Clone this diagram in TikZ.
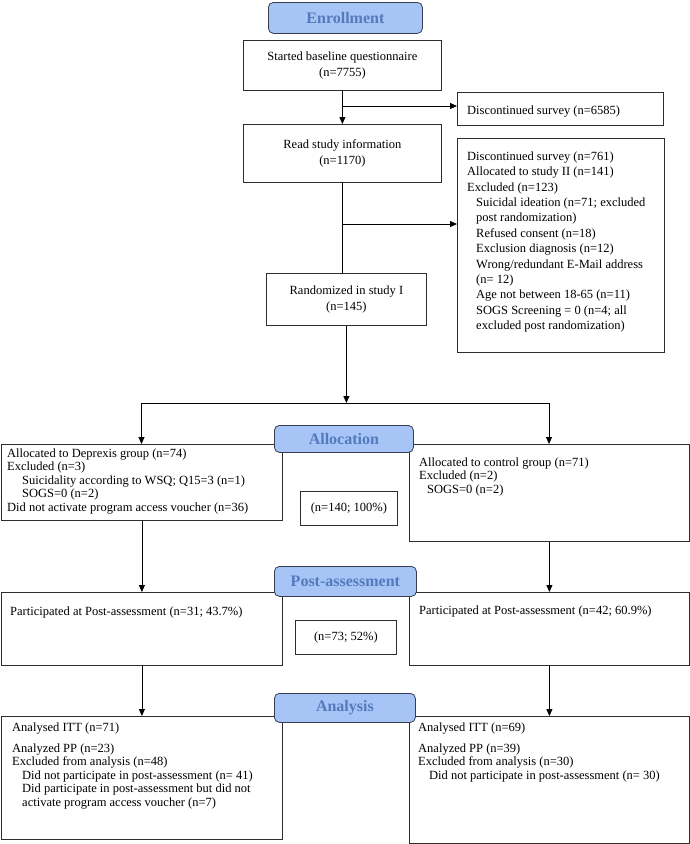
\documentclass[tikz,border=0pt]{standalone}
\usepackage{fontspec}
\setmainfont{Liberation Serif}
\usetikzlibrary{arrows.meta,calc}
\definecolor{tagfill}{RGB}{166,196,245}
\definecolor{tagtext}{RGB}{84,122,190}
\definecolor{tagline}{RGB}{55,62,80}
\definecolor{boxline}{RGB}{45,45,45}
\newcommand\mybox[7][]{\node[box,anchor=north west,minimum width={(#5-#3)*1pt},minimum height={(#6-#4)*1pt},#1] (#2) at (#3,#4) {#7};}
\newcommand\mytag[6]{\node[tag,anchor=north west,minimum width={(#5-#3)*1pt},minimum height={(#6-#4)*1pt}] (#2) at (#3,#4) {#1};}
\begin{document}
\begin{tikzpicture}[x=1pt,y=-1pt,
  box/.style={draw=boxline, line width=0.8pt, fill=white, inner sep=0pt, align=center, font=\fontsize{12.5}{15.5}\selectfont},
  tag/.style={draw=tagline, line width=0.8pt, fill=tagfill, rounded corners=5pt, text=tagtext, font=\fontsize{16}{18}\selectfont\bfseries, inner sep=0pt},
  txt/.style={inner sep=0pt, anchor=north west, align=left, font=\fontsize{12.5}{13.5}\selectfont},
  arr/.style={draw=black, line width=0.8pt, -{Triangle[length=7pt,width=6pt]}},
  ln/.style={draw=black, line width=0.8pt}]
\fill[white] (0,0) rectangle (690,844);
\useasboundingbox (0,0) rectangle (690,844);

% enrollment column
\mybox{start}{243}{40}{441}{90}{Started baseline questionnaire\\(n=7755)}
\mybox{read}{243}{124}{441}{182}{Read study information\\(n=1170)}
\mybox{rand}{266}{273}{426}{325}{Randomized in study I\\(n=145)}
\mybox[align=left]{disc}{457}{92}{663}{125}{}
\node[txt] (disct) at (467,105.5) {Discontinued survey (n=6585)};
\mybox{big}{457}{138}{664}{352}{}
\node[txt, font=\fontsize{12.5}{15.4}\selectfont] (bigt) at (467,151.5) {Discontinued survey (n=761)\\
Allocated to study II (n=141)\\
Excluded (n=123)\\
\hspace*{9pt}Suicidal ideation (n=71; excluded\\
\hspace*{9pt}post randomization)\\
\hspace*{9pt}Refused consent (n=18)\\
\hspace*{9pt}Exclusion diagnosis (n=12)\\
\hspace*{9pt}Wrong/redundant E-Mail address\\
\hspace*{9pt}(n= 12)\\
\hspace*{9pt}Age not between 18-65 (n=11)\\
\hspace*{9pt}SOGS Screening = 0 (n=4; all\\
\hspace*{9pt}excluded post randomization)};

% allocation
\mybox{lalloc}{1}{444}{282}{520}{}
\node[txt] (lallt) at (7,448.5) {Allocated to Deprexis group (n=74)\\
Excluded (n=3)\\
\hspace*{15pt}Suicidality according to WSQ; Q15=3 (n=1)\\
\hspace*{15pt}SOGS=0 (n=2)\\
Did not activate program access voucher (n=36)};
\mybox{ralloc}{409}{444}{689}{541}{}
\node[txt] (rallt) at (419,457.5) {Allocated to control group (n=71)\\
Excluded (n=2)\\
\hspace*{8pt}SOGS=0 (n=2)};
\mybox{n140}{300}{491}{397}{525}{(n=140; 100\%)}

% post-assessment
\mybox{lpost}{1}{592}{282}{665}{}
\node[txt] (lpostt) at (10,606.5) {Participated at Post-assessment (n=31; 43.7\%)};
\mybox{rpost}{409}{592}{689}{665}{}
\node[txt] (rpostt) at (419,605.5) {Participated at Post-assessment (n=42; 60.9\%)};
\mybox{n73}{295}{620}{396}{654}{(n=73; 52\%)}

% analysis
\mybox{lana}{1}{716}{282}{839}{}
\node[txt] (lanat) at (12,722.5) {Analysed ITT (n=71)\\[7.5pt]
Analyzed PP (n=23)\\
Excluded from analysis (n=48)\\
\hspace*{10pt}Did not participate in post-assessment (n= 41)\\
\hspace*{10pt}Did participate in post-assessment but did not\\
\hspace*{10pt}activate program access voucher (n=7)};
\mybox{rana}{409}{716}{689}{843}{}
\node[txt] (ranat) at (418,722.5) {Analysed ITT (n=69)\\[7.5pt]
Analyzed PP (n=39)\\
Excluded from analysis (n=30)\\
\hspace*{11pt}Did not participate in post-assessment (n= 30)};

% connectors
\draw[arr] (start.south) -- (read.north);
\coordinate (b1) at (342,106);
\draw[arr] (b1) -- (b1 -| disc.west);
\draw[ln] (read.south) -- (read.south |- rand.north);
\coordinate (b2) at (342,224);
\draw[arr] (b2) -- (b2 -| big.west);
\coordinate (hl) at (141.5,403);
\coordinate (hr) at (549,403);
\draw[arr] (rand.south) -- (rand.south |- hl);
\draw[ln] (hl) -- (hr);
\draw[arr] (hl) -- (hl |- lalloc.north);
\draw[arr] (hr) -- (hr |- ralloc.north);
\draw[arr] (lalloc.south) -- (lalloc.south |- lpost.north);
\draw[arr] (ralloc.south) -- (ralloc.south |- rpost.north);
\draw[arr] (lpost.south) -- (lpost.south |- lana.north);
\draw[arr] (rpost.south) -- (rpost.south |- rana.north);

% tags
\mytag{Enrollment}{enr}{268}{2}{422}{33}
\mytag{Allocation}{alloc}{274}{425}{413}{452}
\mytag{Post-assessment}{post}{274}{566}{416}{596}
\mytag{Analysis}{ana}{274}{693}{415}{722}
\end{tikzpicture}
\end{document}
